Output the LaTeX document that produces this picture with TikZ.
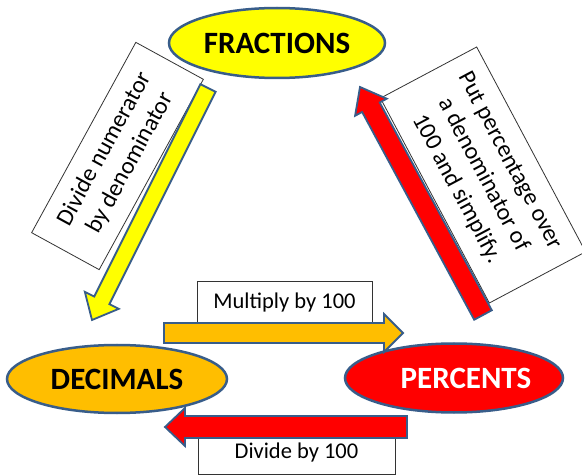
\documentclass[tikz,border=0pt]{standalone}
\usepackage{fontspec}
\setmainfont{Carlito}
\usetikzlibrary{calc,shapes.geometric}
\pgfdeclarelayer{bg}
\pgfsetlayers{bg,main}
\definecolor{outl}{RGB}{56,93,138}
\definecolor{gold}{RGB}{255,190,0}
\definecolor{myred}{RGB}{255,0,0}
\definecolor{myyellow}{RGB}{255,255,0}
% #1 style, #2 tail, #3 tip, #4 shaft half width, #5 head half width, #6 head length
\newcommand\fatarrow[6]{%
  \coordinate (fa-b) at ($(#3)!#6!(#2)$);
  \draw[#1] ($(#2)!#4!90:(#3)$) -- ($(fa-b)!#4!-90:(#2)$) -- ($(fa-b)!#5!-90:(#2)$)
    -- (#3) -- ($(fa-b)!#5!90:(#2)$) -- ($(fa-b)!#4!90:(#2)$) -- ($(#2)!#4!-90:(#3)$) -- cycle;}
\begin{document}
\begin{tikzpicture}[x=1pt,y=1pt,
  elli/.style={ellipse, draw=outl, line width=2.5pt, inner sep=0pt, font=\fontsize{31}{31}\selectfont\bfseries},
  tbox/.style={draw=black!80, line width=0.8pt, fill=white, inner sep=0pt, font=\fontsize{22.5}{27}\selectfont},
  rbox/.style={draw=black!80, line width=0.8pt, fill=white, inner sep=0pt, align=center},
  link/.style={line width=6pt, black},
  fat/.style={draw=outl, line width=1.8pt, line join=miter}
]
\useasboundingbox (0,0) rectangle (582,-476);
\fill[white] (0,0) rectangle (582,-476);

\node[elli, fill=myyellow, minimum width=216pt, minimum height=70pt] (frac) at (277,-43) {FRACTIONS};
\node[elli, fill=gold, minimum width=220pt, minimum height=68pt] (dec) at (117,-379) {DECIMALS};
\node[elli, fill=myred, minimum width=218pt, minimum height=69pt] (perc) at (454,-378) {};
\node[text=white, font=\fontsize{31}{31}\selectfont\bfseries] (perctext) at (466,-378) {PERCENTS};

\begin{pgfonlayer}{bg}
\draw[link] (frac.262) -- (dec.72);
\draw[link] (frac.307) -- (perc.124);
\draw[link] (dec) -- (perc);
\end{pgfonlayer}

\node[tbox, minimum width=175pt, minimum height=44pt] (mult) at (284.5,-303) {Multiply by 100};
\node[tbox, minimum width=197pt, minimum height=42pt] (divb) at (296.5,-453) {Divide by 100};
\node[rbox, rotate=61.3, minimum width=217pt, minimum height=77pt, font=\fontsize{24}{29}\selectfont] (lbox) at (117.5,-156) {Divide numerator\\by denominator};
\node[rbox, rotate=-62, minimum width=232pt, minimum height=109pt, font=\fontsize{24}{30}\selectfont] (rboxn) at (483,-175) {Put percentage over\\a denominator of\\100 and simplify.};

\coordinate (ya-t) at (208,-88); \coordinate (ya-h) at (92,-320);
\fatarrow{fat, fill=myyellow}{ya-t}{ya-h}{8.5pt}{19pt}{22pt}
\coordinate (ra-t) at (483,-315); \coordinate (ra-h) at (360,-87);
\fatarrow{fat, fill=myred}{ra-t}{ra-h}{10pt}{18pt}{23pt}
\coordinate (oa-t) at (164,-333); \coordinate (oa-h) at (403,-333);
\fatarrow{fat, fill=gold}{oa-t}{oa-h}{10pt}{19pt}{19pt}
\coordinate (ba-t) at (407,-427); \coordinate (ba-h) at (165,-427);
\fatarrow{fat, fill=myred}{ba-t}{ba-h}{11pt}{19pt}{20pt}
\end{tikzpicture}
\end{document}
